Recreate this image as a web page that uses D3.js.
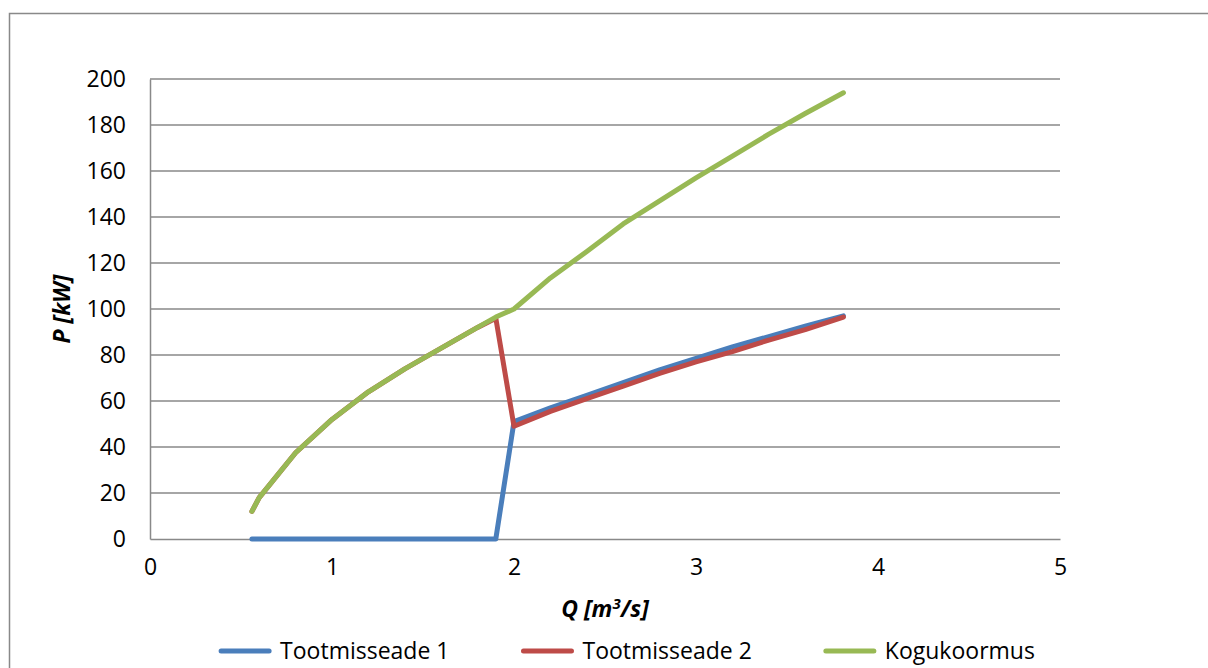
<!DOCTYPE html>
<html>
<head>
<meta charset="utf-8">
<script src="https://cdn.jsdelivr.net/npm/d3@7"></script>
<style>
  html, body { margin: 0; padding: 0; background: #fff; }
  svg { display: block; }
  text { font-family: "Open Sans", "Liberation Sans", sans-serif; fill: #000; }
</style>
</head>
<body>
<svg id="chart" width="1208" height="668"></svg>
<script>
// Flow rate Q [m3/s]
const flow = [0.56, 0.6, 0.8, 1.0, 1.2, 1.4, 1.6, 1.8, 1.9, 2.0, 2.2, 2.4, 2.6, 2.8, 3.0, 3.2, 3.4, 3.6, 3.81];
// Power P [kW] per operating mode
const unit1 = [0, 0, 0, 0, 0, 0, 0, 0, 0, 51, 57, 62.5, 68, 73.5, 78.5, 83.5, 88, 92.5, 97];
const unit2 = [12, 18, 37.5, 52, 64, 74, 83, 92, 96, 49, 55.5, 61, 66.5, 72, 77, 81.5, 86.5, 91, 96.5];
const total = [12, 18, 37.5, 52, 64, 74, 83, 92, 96.5, 100, 113.5, 125, 137, 147, 157, 166.5, 176, 185, 194];

const seriesNames = ["Tootmisseade 1", "Tootmisseade 2", "Kogukoormus"];
const seriesColors = ["#4a7ebb", "#be4b48", "#98b954"];
const xTicks = [0, 1, 2, 3, 4, 5];
const yTicks = [0, 20, 40, 60, 80, 100, 120, 140, 160, 180, 200];

const svg = d3.select("#chart");
const plot = { left: 150, right: 1060, top: 79, bottom: 539 };

const x = d3.scaleLinear().domain([0, 5]).range([plot.left, plot.right]);
const y = d3.scaleLinear().domain([0, 200]).range([plot.bottom, plot.top]);

const grey = "#898989";

// outer chart frame
svg.append("path")
  .attr("d", "M9.5,668 V13.5 H1208")
  .attr("fill", "none")
  .attr("stroke", grey)
  .attr("stroke-width", 1.5);

// horizontal gridlines
svg.append("g")
  .selectAll("line")
  .data(yTicks.filter(v => v !== 0))
  .join("line")
  .attr("x1", x(0)).attr("x2", x(5))
  .attr("y1", d => y(d)).attr("y2", d => y(d))
  .attr("stroke", grey)
  .attr("stroke-width", 1.4);

// axes
const yAxis = d3.axisLeft(y).tickValues(yTicks).tickFormat(d3.format("d")).tickSize(0).tickPadding(24);
const xAxis = d3.axisBottom(x).tickValues(xTicks).tickFormat(d3.format("d")).tickSize(0).tickPadding(28);

const gy = svg.append("g").attr("transform", `translate(${plot.left},0)`).call(yAxis);
const gx = svg.append("g").attr("transform", `translate(0,${plot.bottom})`).call(xAxis);

[gx, gy].forEach(g => {
  g.select(".domain").attr("stroke", grey).attr("stroke-width", 1.5);
  g.selectAll("text")
    .attr("font-family", "'Open Sans', 'Liberation Sans', sans-serif")
    .attr("font-size", 23)
    .attr("fill", "#000");
});
gy.selectAll("text").attr("dy", "0.34em");
gx.selectAll("text").attr("dy", "0.35em");

// axis titles
svg.append("text")
  .attr("transform", `translate(${plot.left - 88},${(plot.top + plot.bottom) / 2}) rotate(-90)`)
  .attr("text-anchor", "middle")
  .attr("dy", "0.35em")
  .attr("font-size", 23)
  .attr("font-weight", "bold")
  .attr("font-style", "italic")
  .text("P [kW]");

const xTitle = svg.append("text")
  .attr("x", (plot.left + plot.right) / 2)
  .attr("y", 609)
  .attr("text-anchor", "middle")
  .attr("dy", "0.35em")
  .attr("font-size", 23)
  .attr("font-weight", "bold")
  .attr("font-style", "italic");
xTitle.append("tspan").text("Q [m");
xTitle.append("tspan").attr("font-size", 15).attr("dy", "-0.55em").text("3");
xTitle.append("tspan").attr("dy", "0.36em").text("/s]");

// series lines
const seriesData = [unit1, unit2, total].map(vals => flow.map((q, i) => [q, vals[i]]));
const line = d3.line().x(d => x(d[0])).y(d => y(d[1]));

svg.append("g")
  .selectAll("path")
  .data(seriesData)
  .join("path")
  .attr("d", line)
  .attr("fill", "none")
  .attr("stroke", (d, i) => seriesColors[i])
  .attr("stroke-width", 5)
  .attr("stroke-linejoin", "round")
  .attr("stroke-linecap", "round");

// legend
const legendY = 651;
const sampleLen = 48, sampleGap = 11, itemGap = 74;
const legend = svg.append("g");
const items = legend.selectAll("g")
  .data(seriesNames)
  .join("g");
items.append("line")
  .attr("x1", 0).attr("x2", sampleLen)
  .attr("y1", 0).attr("y2", 0)
  .attr("stroke", (d, i) => seriesColors[i])
  .attr("stroke-width", 5)
  .attr("stroke-linecap", "round");
items.append("text")
  .attr("x", sampleLen + sampleGap)
  .attr("dy", "0.35em")
  .attr("font-size", 23)
  .text(d => d);

const widths = [];
items.each(function () {
  const w = sampleLen + sampleGap + d3.select(this).select("text").node().getComputedTextLength();
  widths.push(w);
});
const totalW = d3.sum(widths) + itemGap * (widths.length - 1);
let cursor = 628 - totalW / 2;
items.attr("transform", (d, i) => {
  const t = `translate(${cursor},${legendY})`;
  cursor += widths[i] + itemGap;
  return t;
});
</script>
</body>
</html>
